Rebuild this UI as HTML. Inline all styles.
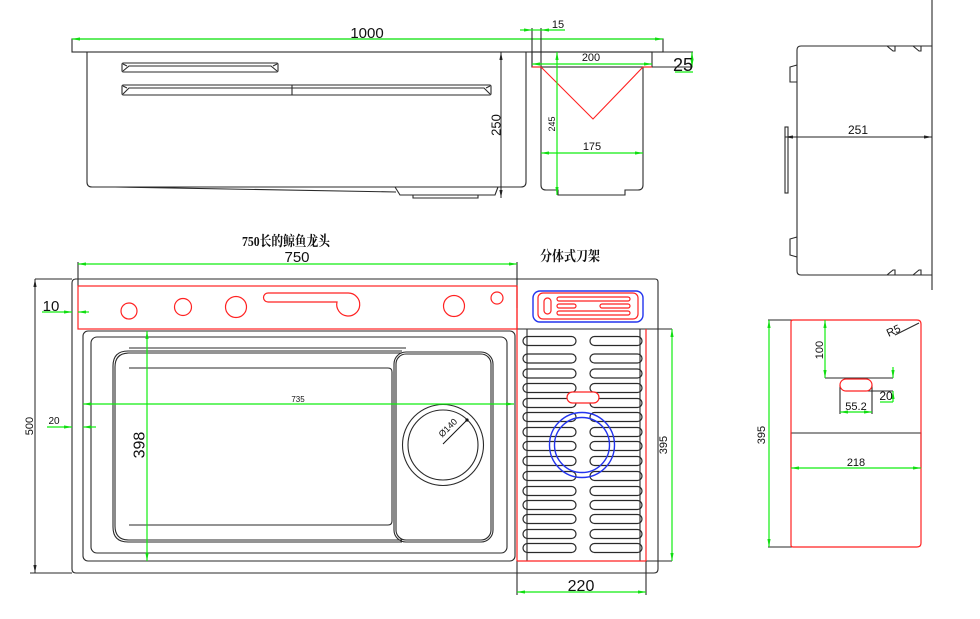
<!DOCTYPE html>
<html><head><meta charset="utf-8"><style>
html,body{margin:0;padding:0;background:#fff;}
svg{display:block;}
text{font-family:"Liberation Sans","Noto Sans CJK SC",sans-serif;fill:#111;}
.t{font-family:"Liberation Serif","Noto Serif CJK SC",serif;font-weight:bold;}
</style></head><body>
<svg width="980" height="619" viewBox="0 0 980 619" xmlns="http://www.w3.org/2000/svg">
<defs>
<marker id="ag" viewBox="0 0 10 4" refX="10" refY="2" markerWidth="8" markerHeight="3.2" markerUnits="userSpaceOnUse" orient="auto-start-reverse"><path d="M0,0L10,2L0,4z" fill="#11dd11"/></marker>
<marker id="ak" viewBox="0 0 10 4" refX="10" refY="2" markerWidth="8" markerHeight="3.2" markerUnits="userSpaceOnUse" orient="auto-start-reverse"><path d="M0,0L10,2L0,4z" fill="#222"/></marker>
</defs>

<!-- ============ TOP LEFT VIEW ============ -->
<g fill="none" stroke="#2a2a2a" stroke-width="1.1">
<rect x="72" y="39" width="591" height="13"/>
<line x1="663" y1="52" x2="693" y2="52"/>
<path d="M87,52V182Q87,187 92,187H521Q526,187 526,182V52"/>
<path d="M115,187L396,192"/>
<path d="M395,187L400,195H495L498,187"/>
<path d="M413,195V198H478V195"/>
<!-- slots -->
<rect x="122" y="63" width="156" height="9" rx="1.5"/>
<path d="M123,71L129,66H271L277,71M123,64L127,66M277,64L273,66"/>
<rect x="122" y="85" width="369" height="10" rx="1.5"/>
<path d="M123,94L129,88H484L490,94M123,86L127,88M490,86L486,88"/>
<line x1="292" y1="85" x2="292" y2="95"/>
</g>
<line x1="72" y1="39" x2="663" y2="39" stroke="#11ee11" stroke-width="1.2" marker-start="url(#ag)" marker-end="url(#ag)"/>
<text x="367" y="38" font-size="15" text-anchor="middle">1000</text>
<line x1="501" y1="52" x2="501" y2="198" stroke="#222" stroke-width="1" marker-start="url(#ak)" marker-end="url(#ak)"/>
<text x="496" y="125" font-size="13" text-anchor="middle" dominant-baseline="central" transform="rotate(-90 496 125)">250</text>

<!-- ============ TOP MIDDLE VIEW ============ -->
<g fill="none" stroke="#2a2a2a" stroke-width="1.1">
<line x1="532" y1="28" x2="532" y2="67"/>
<line x1="541" y1="28" x2="541" y2="67"/>
<rect x="532" y="52" width="120" height="15"/>
<path d="M652,67H692V52"/>
<path d="M541,67V185Q541,190 546,190H558V195H625V190H638Q643,190 643,185V67"/>
</g>
<g fill="none" stroke="#ff2222" stroke-width="1.1">
<line x1="532" y1="67" x2="541" y2="67"/>
<line x1="643" y1="67" x2="652" y2="67"/>
<polyline points="541,67 593,119 643,67"/>
</g>
<g stroke="#11ee11" stroke-width="1.2" fill="none">
<line x1="520" y1="30" x2="532" y2="30" marker-end="url(#ag)"/>
<line x1="565" y1="30" x2="541" y2="30" marker-end="url(#ag)"/>
<line x1="532" y1="30" x2="541" y2="30"/>
<line x1="532" y1="64" x2="652" y2="64" marker-start="url(#ag)" marker-end="url(#ag)"/>
<line x1="692" y1="52" x2="692" y2="67" marker-start="url(#ag)" marker-end="url(#ag)"/>
<line x1="675" y1="72" x2="693" y2="72"/>
<line x1="557" y1="52" x2="557" y2="195" marker-start="url(#ag)" marker-end="url(#ag)"/>
<line x1="541" y1="153" x2="643" y2="153" marker-start="url(#ag)" marker-end="url(#ag)"/>
</g>
<text x="558" y="28" font-size="11" text-anchor="middle">15</text>
<text x="591" y="61" font-size="11" text-anchor="middle">200</text>
<text x="683" y="71" font-size="18" text-anchor="middle">25</text>
<text x="552" y="124" font-size="9" text-anchor="middle" dominant-baseline="central" transform="rotate(-90 552 124)">245</text>
<text x="592" y="150" font-size="11" text-anchor="middle">175</text>

<!-- ============ RIGHT VIEW ============ -->
<g fill="none" stroke="#2a2a2a" stroke-width="1.1">
<line x1="932" y1="0" x2="932" y2="290"/>
<path d="M932,46H801Q797,46 797,50V271Q797,275 801,275H932"/>
<path d="M887,46L893,51H895V46M913,46L919,51H921V46"/>
<path d="M887,275L893,270H895V275M913,275L919,270H921V275"/>
<path d="M797,65L790,67V82H797"/>
<path d="M797,237L790,239V255L797,257"/>
<rect x="785" y="127" width="3" height="66"/>
</g>
<line x1="785" y1="137" x2="932" y2="137" stroke="#222" stroke-width="1" marker-start="url(#ak)" marker-end="url(#ak)"/>
<text x="858" y="134" font-size="12" text-anchor="middle">251</text>

<!-- ============ BOTTOM LEFT VIEW ============ -->
<text class="t" x="286" y="246" font-size="14" text-anchor="middle" textLength="88" lengthAdjust="spacingAndGlyphs">750长的鲸鱼龙头</text>
<text x="297" y="262" font-size="15" text-anchor="middle">750</text>
<text class="t" x="570" y="261" font-size="14" text-anchor="middle" textLength="60" lengthAdjust="spacingAndGlyphs">分体式刀架</text>

<g fill="none" stroke="#2a2a2a" stroke-width="1.1">
<!-- outer -->
<path d="M75,279H655Q658,279 658,282V569Q658,573 654,573H76Q72,573 72,569V283Q72,279 76,279"/>
<line x1="35" y1="279" x2="72" y2="279"/>
<line x1="30" y1="573" x2="72" y2="573"/>
<line x1="78" y1="262" x2="78" y2="286"/>
<line x1="517" y1="262" x2="517" y2="308"/>
<!-- inner rects -->
<rect x="83" y="331" width="432" height="230" rx="5"/>
<rect x="91" y="337" width="416" height="216" rx="6"/>
<!-- basin -->
<line x1="129" y1="348" x2="406" y2="348"/>
<path d="M402,351H128Q113,351 113,366V527Q113,542 128,542H402"/>
<path d="M402,353H129Q115,353 115,367V526Q115,540 129,540H402"/>
<path d="M129,368H388Q392,368 392,372V521Q392,525 388,525H129"/>
<rect x="394" y="352" width="99" height="190" rx="12"/>
<rect x="396" y="354" width="95" height="186" rx="10"/>
<circle cx="443" cy="445" r="40.5"/>
<circle cx="443" cy="445" r="35"/>
</g>
<line x1="443" y1="444" x2="468" y2="419" stroke="#111" stroke-width="1"/>
<circle cx="467" cy="420" r="1.6" fill="#111"/>
<text x="450" y="430" font-size="9" text-anchor="middle" transform="rotate(-45 450 430)">Ø140</text>

<!-- red top rect -->
<g fill="none" stroke="#ff2222" stroke-width="1.2">
<rect x="78" y="286" width="439" height="43"/>
<circle cx="129" cy="311" r="8"/>
<circle cx="183" cy="307" r="8.5"/>
<circle cx="236" cy="307" r="10.5"/>
<path d="M268,293H348A11.5,11.5 0 1 1 337,302H268A4.5,4.5 0 0 1 268,293Z"/>
<circle cx="454" cy="306" r="10.5"/>
<circle cx="497" cy="298" r="6"/>
</g>

<!-- dims bottom left -->
<g stroke="#11ee11" stroke-width="1.2" fill="none">
<line x1="78" y1="264" x2="517" y2="264" marker-start="url(#ag)" marker-end="url(#ag)"/>
<line x1="42" y1="312" x2="72" y2="312" marker-end="url(#ag)"/>
<line x1="89" y1="312" x2="78" y2="312" marker-end="url(#ag)"/>
<line x1="83" y1="404" x2="514" y2="404" marker-start="url(#ag)" marker-end="url(#ag)"/>
<line x1="147" y1="331" x2="147" y2="561" marker-start="url(#ag)" marker-end="url(#ag)"/>
<line x1="47" y1="427" x2="72" y2="427" marker-end="url(#ag)"/>
<line x1="96" y1="427" x2="83" y2="427" marker-end="url(#ag)"/>
</g>
<line x1="35" y1="279" x2="35" y2="573" stroke="#222" stroke-width="1" marker-start="url(#ak)" marker-end="url(#ak)"/>
<text x="51" y="311" font-size="15" text-anchor="middle">10</text>
<text x="298" y="402" font-size="8" text-anchor="middle">735</text>
<text x="140" y="445" font-size="16" text-anchor="middle" dominant-baseline="central" transform="rotate(-90 140 445)">398</text>
<text x="54" y="424" font-size="10" text-anchor="middle">20</text>
<text x="30" y="426" font-size="11" text-anchor="middle" dominant-baseline="central" transform="rotate(-90 30 426)">500</text>

<!-- ============ DRAINER ============ -->
<g fill="none" stroke="#2a2a2a" stroke-width="1.1">
<line x1="517" y1="329" x2="672" y2="329"/>
<line x1="527" y1="329" x2="527" y2="561"/>
<line x1="640" y1="329" x2="640" y2="561"/>
<line x1="517" y1="561" x2="517" y2="595"/>
<line x1="646" y1="561" x2="646" y2="595"/>
<line x1="646" y1="561" x2="672" y2="561"/>
<g stroke-width="1.2">
<rect x="523" y="336.5" width="53" height="9" rx="4.5"/><rect x="590" y="336.5" width="52" height="9" rx="4.5"/>
<rect x="523" y="354" width="53" height="9" rx="4.5"/><rect x="590" y="354" width="52" height="9" rx="4.5"/>
<rect x="523" y="369" width="53" height="9" rx="4.5"/><rect x="590" y="369" width="52" height="9" rx="4.5"/>
<rect x="523" y="383.5" width="53" height="9" rx="4.5"/><rect x="590" y="383.5" width="52" height="9" rx="4.5"/>
<rect x="523" y="398.5" width="53" height="9" rx="4.5"/><rect x="590" y="398.5" width="52" height="9" rx="4.5"/>
<rect x="523" y="412.5" width="53" height="9" rx="4.5"/><rect x="590" y="412.5" width="52" height="9" rx="4.5"/>
<rect x="523" y="427.5" width="53" height="9" rx="4.5"/><rect x="590" y="427.5" width="52" height="9" rx="4.5"/>
<rect x="523" y="441.5" width="53" height="9" rx="4.5"/><rect x="590" y="441.5" width="52" height="9" rx="4.5"/>
<rect x="523" y="456.5" width="53" height="9" rx="4.5"/><rect x="590" y="456.5" width="52" height="9" rx="4.5"/>
<rect x="523" y="471.5" width="53" height="9" rx="4.5"/><rect x="590" y="471.5" width="52" height="9" rx="4.5"/>
<rect x="523" y="486.5" width="53" height="9" rx="4.5"/><rect x="590" y="486.5" width="52" height="9" rx="4.5"/>
<rect x="523" y="500.5" width="53" height="9" rx="4.5"/><rect x="590" y="500.5" width="52" height="9" rx="4.5"/>
<rect x="523" y="514.5" width="53" height="9" rx="4.5"/><rect x="590" y="514.5" width="52" height="9" rx="4.5"/>
<rect x="523" y="529.5" width="53" height="9" rx="4.5"/><rect x="590" y="529.5" width="52" height="9" rx="4.5"/>
<rect x="523" y="543.5" width="53" height="9" rx="4.5"/><rect x="590" y="543.5" width="52" height="9" rx="4.5"/>
</g>
</g>
<g fill="none" stroke="#ff2222" stroke-width="1.2">
<line x1="517" y1="286" x2="517" y2="561"/>
<line x1="646" y1="329" x2="646" y2="561"/>
<line x1="517" y1="561" x2="646" y2="561"/>
<rect x="538" y="293" width="100" height="26" rx="5"/>
<rect x="544" y="298" width="7" height="16" rx="3.5"/>
<rect x="557" y="297" width="73" height="4" rx="2"/>
<rect x="557" y="304" width="19" height="4" rx="2"/>
<rect x="600" y="304" width="30" height="4" rx="2"/>
<rect x="557" y="311" width="73" height="4" rx="2"/>
<rect x="567" y="392" width="32" height="11" rx="5.5" fill="#fff"/>
</g>
<g fill="none" stroke="#2233ee" stroke-width="1.4">
<rect x="533" y="291" width="110" height="31" rx="7"/>
<circle cx="582" cy="445" r="32.5"/>
<circle cx="582" cy="445" r="27.5"/>
</g>
<g stroke="#11ee11" stroke-width="1.2" fill="none">
<line x1="672" y1="329" x2="672" y2="561" marker-start="url(#ag)" marker-end="url(#ag)"/>
<line x1="517" y1="592" x2="646" y2="592" marker-start="url(#ag)" marker-end="url(#ag)"/>
</g>
<text x="664" y="445" font-size="11" text-anchor="middle" dominant-baseline="central" transform="rotate(-90 664 445)">395</text>
<text x="581" y="591" font-size="16" text-anchor="middle">220</text>

<!-- ============ FAR RIGHT VIEW ============ -->
<g fill="none" stroke="#2a2a2a" stroke-width="1.1">
<line x1="768" y1="320" x2="857" y2="320"/>
<line x1="768" y1="547" x2="850" y2="547"/>
<line x1="825" y1="378" x2="893" y2="378"/>
<line x1="840" y1="385" x2="840" y2="414"/>
<line x1="872" y1="385" x2="872" y2="414"/>
<line x1="857" y1="391" x2="893" y2="391"/>
<path d="M791,468V433H921V468"/>
<line x1="895" y1="335" x2="919" y2="323"/>
</g>
<path d="M857,320H917Q921,320 921,324V543Q921,547 917,547H793Q791,547 791,545V322Q791,320 793,320H857" fill="none" stroke="#ff2222" stroke-width="1.2"/>
<rect x="840" y="379" width="32" height="12" rx="6" fill="#fff" stroke="#ff2222" stroke-width="1.2"/>
<g stroke="#11ee11" stroke-width="1.2" fill="none">
<line x1="769" y1="320" x2="769" y2="547" marker-start="url(#ag)" marker-end="url(#ag)"/>
<line x1="825" y1="320" x2="825" y2="378" marker-start="url(#ag)" marker-end="url(#ag)"/>
<line x1="893" y1="367" x2="893" y2="378" marker-end="url(#ag)"/>
<line x1="893" y1="402" x2="893" y2="391" marker-end="url(#ag)"/>
<line x1="880" y1="402" x2="893" y2="402"/>
<line x1="840" y1="412" x2="872" y2="412" marker-start="url(#ag)" marker-end="url(#ag)"/>
<line x1="791" y1="468" x2="921" y2="468" marker-start="url(#ag)" marker-end="url(#ag)"/>
</g>
<text x="762" y="435" font-size="11" text-anchor="middle" dominant-baseline="central" transform="rotate(-90 762 435)">395</text>
<text x="820" y="350" font-size="11" text-anchor="middle" dominant-baseline="central" transform="rotate(-90 820 350)">100</text>
<text x="886" y="400" font-size="12" text-anchor="middle">20</text>
<text x="856" y="410" font-size="11" text-anchor="middle">55.2</text>
<text x="856" y="466" font-size="11" text-anchor="middle">218</text>
<text x="895" y="334" font-size="11" text-anchor="middle" transform="rotate(-25 895 334)">R5</text>
</svg>
</body></html>
